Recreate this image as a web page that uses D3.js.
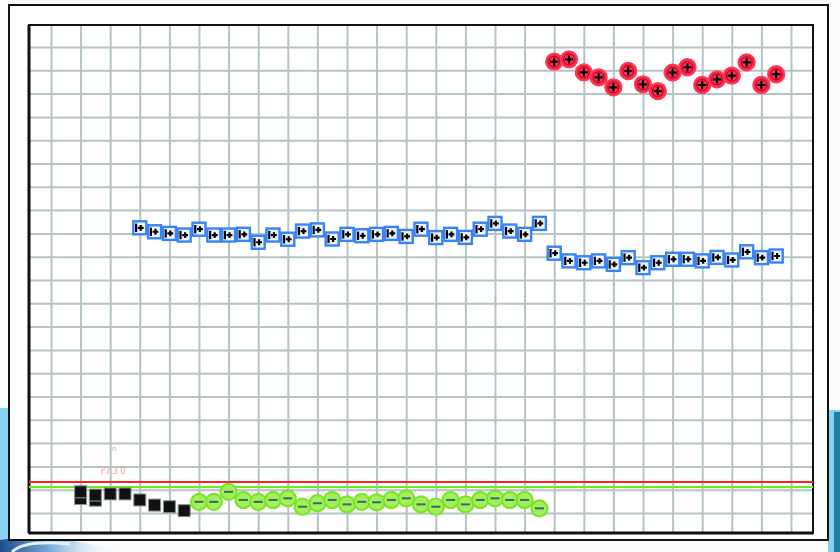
<!DOCTYPE html>
<html><head><meta charset="utf-8">
<script src="https://cdn.jsdelivr.net/npm/d3@7"></script>
<style>html,body{margin:0;padding:0;background:#fff;}svg{display:block;}</style>
</head><body>
<svg id="c" width="840" height="552"></svg>
<script>
// ---- data (x = sample number, y = grid units) ----
const redStart = 34;
const redValues = [19.37,19.47,18.91,18.70,18.27,18.97,18.40,18.11,18.90,19.13,18.37,18.61,18.77,19.34,18.37,18.83];
const blueStart = 6;
const blueValues = [12.24,12.07,12.00,11.93,12.18,11.93,11.93,11.96,11.62,11.93,11.75,12.10,12.15,11.76,11.96,11.90,11.96,12.00,11.87,
  12.18,11.82,11.96,11.83,12.18,12.43,12.10,11.96,12.43,
  11.15,10.82,10.74,10.82,10.67,10.96,10.53,10.74,10.89,10.89,10.82,10.97,10.86,11.21,10.96,11.03];
const blackStart = 2;
const blackValues = [0.91,0.77,0.82,0.82,0.56,0.34,0.27,0.10];
const black2Start = 2;
const black2Values = [0.62,0.55];
const greenStart = 10;
const greenValues = [0.48,0.48,0.91,0.56,0.48,0.56,0.63,0.27,0.42,0.56,0.37,0.48,0.46,0.56,0.63,0.37,0.27,0.56,0.37,0.56,0.63,0.56,0.56,0.20];
const redLimit = 1.33;
const greenLimit = 1.12;
const xGridTicks = d3.range(0, 51, 2);
const yGridTicks = d3.range(0, 21, 1);

const svg = d3.select("#c");
// background decoration
const defs = svg.append("defs");
const g1 = defs.append("linearGradient").attr("id","sw").attr("x1","0").attr("x2","1").attr("y1","0").attr("y2","0");
g1.append("stop").attr("offset","0").attr("stop-color","#1f4f8a");
g1.append("stop").attr("offset","0.4").attr("stop-color","#6fa8d8");
g1.append("stop").attr("offset","1").attr("stop-color","#ffffff").attr("stop-opacity","0");
svg.append("rect").attr("x",0).attr("y",0).attr("width",840).attr("height",552).attr("fill","#fbfbfb");
svg.append("rect").attr("x",0).attr("y",408).attr("width",12).attr("height",144).attr("fill","#86d2f2");
svg.append("rect").attr("x",828).attr("y",410).attr("width",12).attr("height",142).attr("fill","#86d2f2");
svg.append("rect").attr("x",834).attr("y",412).attr("width",6).attr("height",140).attr("fill","#1e7fa8");
svg.append("path").attr("d","M0,552 L0,540 C30,536 70,536 120,552 Z").attr("fill","url(#sw)");
svg.append("path").attr("d","M12,552 C20,544 40,541 70,544").attr("stroke","#e8eef6").attr("stroke-width",3).attr("fill","none");

// outer panel
svg.append("rect").attr("x",9).attr("y",5).attr("width",819).attr("height",535).attr("fill","#ffffff").attr("stroke","#111").attr("stroke-width",2);

const L = 29, R = 813, T = 25, B = 533;
const x = d3.scaleLinear().domain([-1.486, 51.486]).range([L, R]);
const y = d3.scaleLinear().domain([-0.858, 20.944]).range([B, T]);

// grid via axes
const gx = svg.append("g").attr("transform",`translate(0,${B})`)
  .call(d3.axisBottom(x).tickValues(xGridTicks).tickSize(-(B-T)).tickFormat(""));
const gy = svg.append("g").attr("transform",`translate(${L},0)`)
  .call(d3.axisLeft(y).tickValues(yGridTicks).tickSize(-(R-L)).tickFormat(""));
[gx,gy].forEach(g=>{
  g.select(".domain").remove();
  g.selectAll(".tick line").attr("stroke","#b5c3c3").attr("stroke-width",2);
});

// plot frame
svg.append("rect").attr("x",L).attr("y",T).attr("width",R-L).attr("height",B-T).attr("fill","none").attr("stroke","#111").attr("stroke-width",2);
svg.append("line").attr("x1",L).attr("x2",L).attr("y1",T).attr("y2",B).attr("stroke","#111").attr("stroke-width",3);
svg.append("line").attr("x1",L).attr("x2",R).attr("y1",B).attr("y2",B).attr("stroke","#111").attr("stroke-width",3);

// faint ghost text
svg.append("text").attr("x",31).attr("y",463).attr("font-family","DejaVu Sans").attr("font-size",6)
  .attr("fill","#d6dada").text("· · · · · · · · · · · · · · · · · · · · · · · · · ·");
svg.append("text").attr("x",101).attr("y",474).attr("font-family","DejaVu Sans").attr("font-size",8)
  .attr("fill","#f3a0a0").text("ґ7 3 0");
svg.append("text").attr("x",112).attr("y",451).attr("font-family","DejaVu Sans").attr("font-size",7)
  .attr("fill","#f3a0a0").text("п");

// limit lines
svg.append("line").attr("x1",L).attr("x2",R).attr("y1",y(redLimit)).attr("y2",y(redLimit)).attr("stroke","#ff2222").attr("stroke-width",2);
svg.append("line").attr("x1",L).attr("x2",R).attr("y1",y(greenLimit)).attr("y2",y(greenLimit)).attr("stroke","#66ee22").attr("stroke-width",2);

function pts(start, vals){ return vals.map((v,i)=>({s:start+i, v})); }

// black squares
const blk = svg.append("g");
[pts(black2Start, black2Values), pts(blackStart, blackValues)].forEach(data=>{
  blk.selectAll(null).data(data).enter().append("rect")
    .attr("x",d=>x(d.s)-6).attr("y",d=>y(d.v)-6).attr("width",12).attr("height",12)
    .attr("fill","#111").attr("stroke","#8a9494").attr("stroke-width",1);
});

// green circles
const gr = svg.append("g").selectAll("g").data(pts(greenStart, greenValues)).enter().append("g")
  .attr("transform",d=>`translate(${x(d.s)},${y(d.v)})`);
gr.append("circle").attr("r",8).attr("fill","#a6ee5a").attr("stroke","#78e62a").attr("stroke-width",2.2);
gr.append("line").attr("x1",-4.5).attr("x2",4.5).attr("y1",0).attr("y2",0).attr("stroke","#2f6e6e").attr("stroke-width",2);

// blue squares
const bl = svg.append("g").selectAll("g").data(pts(blueStart, blueValues)).enter().append("g")
  .attr("transform",d=>`translate(${x(d.s)},${y(d.v)})`);
bl.append("rect").attr("x",-6.5).attr("y",-6.5).attr("width",13).attr("height",13)
  .attr("fill","#eef5ff").attr("stroke","#3a84f2").attr("stroke-width",2.4);
bl.append("rect").attr("x",-4.8).attr("y",-4.2).attr("width",2.2).attr("height",8.4).attr("fill","#000");
bl.append("path").attr("d","M-2,0 L3.8,0 M0.9,-2.9 L0.9,2.9").attr("stroke","#000").attr("stroke-width",2.2);

// red circles
const rd = svg.append("g").selectAll("g").data(pts(redStart, redValues)).enter().append("g")
  .attr("transform",d=>`translate(${x(d.s)},${y(d.v)})`);
rd.append("circle").attr("r",8.4).attr("fill","#ff2445").attr("stroke","#ff3d5c").attr("stroke-width",1.5);
rd.append("circle").attr("r",5.4).attr("fill","#ee3a56").attr("stroke","#b0001c").attr("stroke-width",1);
rd.append("path").attr("d","M-4.2,0 L4.2,0 M0,-4.2 L0,4.2").attr("stroke","#1a0006").attr("stroke-width",2.2);
</script>
</body></html>
